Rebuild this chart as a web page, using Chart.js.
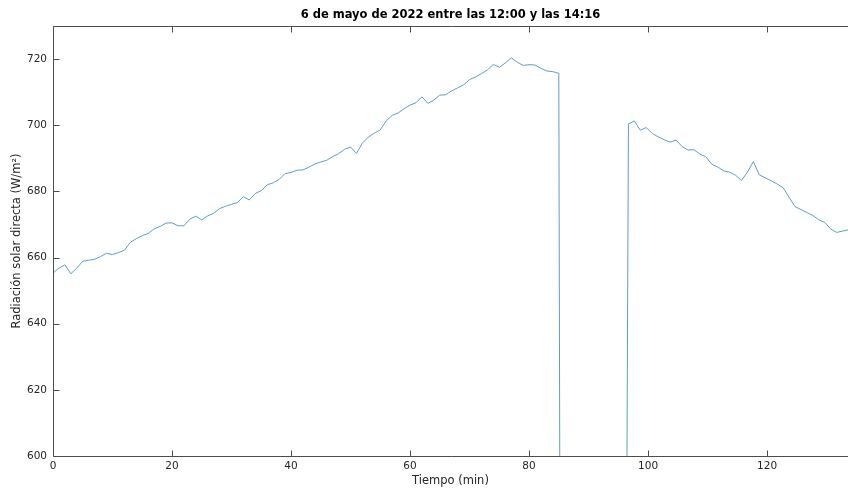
<!DOCTYPE html>
<html>
<head>
<meta charset="utf-8">
<script src="https://cdn.jsdelivr.net/npm/chart.js@4.4.0/dist/chart.umd.min.js"></script>
<style>
  html, body { margin: 0; padding: 0; background: #ffffff; }
  #wrap { width: 848px; height: 490px; }
</style>
</head>
<body>
<div id="wrap"><canvas id="grafico"></canvas></div>
<script>
// Minutos transcurridos desde las 12:00
const tiempo = [
  0, 1, 2, 3, 4, 5, 6, 7, 8, 9,
  10, 11, 12, 13, 14, 15, 16, 17, 18, 19,
  20, 21, 22, 23, 24, 25, 26, 27, 28, 29,
  30, 31, 32, 33, 34, 35, 36, 37, 38, 39,
  40, 41, 42, 43, 44, 45, 46, 47, 48, 49,
  50, 51, 52, 53, 54, 55, 56, 57, 58, 59,
  60, 61, 62, 63, 64, 65, 66, 67, 68, 69,
  70, 71, 72, 73, 74, 75, 76, 77, 78, 79,
  80, 81, 82, 83, 84, 85,
  86, 87, 88, 89, 90, 91, 92, 93, 94, 95,
  96.7, 97.7, 98.7, 99.7, 100.7, 101.7, 102.7, 103.7, 104.7, 105.7,
  106.7, 107.7, 108.7, 109.7, 110.7, 111.7, 112.7, 113.7, 114.7, 115.7,
  116.7, 117.7, 118.7, 119.7, 120.7, 121.7, 122.7, 123.7, 124.7, 125.7,
  126.7, 127.7, 128.7, 129.7, 130.7, 131.7, 132.7, 133.7
];

// Radiación solar directa medida (W/m²); sin lectura del sensor entre 86 y 95 min
const radiacion = [
  655.3, 656.8, 657.8, 655.1, 656.8, 658.9, 659.2, 659.5, 660.3, 661.3,
  660.9, 661.5, 662.2, 664.6, 665.7, 666.6, 667.3, 668.7, 669.4, 670.4,
  670.5, 669.6, 669.6, 671.6, 672.5, 671.4, 672.6, 673.4, 674.8, 675.5,
  676.1, 676.6, 678.4, 677.4, 679.4, 680.2, 682.0, 682.6, 683.6, 685.4,
  685.7, 686.4, 686.5, 687.3, 688.3, 688.9, 689.4, 690.5, 691.4, 692.7,
  693.4, 691.5, 694.6, 696.4, 697.6, 698.6, 701.3, 703.0, 703.7, 705.0,
  706.1, 706.8, 708.6, 706.6, 707.6, 709.1, 709.2, 710.4, 711.3, 712.2,
  713.8, 714.6, 715.6, 716.7, 718.4, 717.5, 718.8, 720.4, 719.1, 718.1,
  718.3, 718.2, 717.2, 716.4, 716.2, 715.7,
  0, 0, 0, 0, 0, 0, 0, 0, 0, 0,
  700.4, 701.3, 698.5, 699.3, 697.5, 696.5, 695.6, 694.9, 695.5, 693.6,
  692.5, 692.6, 691.3, 690.5, 688.2, 687.4, 686.2, 685.8, 684.9, 683.3,
  685.8, 689.0, 685.0, 684.1, 683.2, 682.2, 681.1, 678.2, 675.4, 674.5,
  673.6, 672.7, 671.4, 670.6, 668.6, 667.6, 668.0, 668.4
];

const marcasX = [0, 20, 40, 60, 80, 100, 120];
const marcasY = [600, 620, 640, 660, 680, 700, 720];

const limitesX = [0, 133.6];
const limitesY = [600, 730];

const puntos = tiempo.map((t, i) => ({ x: t, y: radiacion[i] }));

const colorEjes = '#4d4d4d';
const colorTexto = '#262626';
const fuente = 'DejaVu Sans';

// Caja de ejes (izquierda, arriba y abajo) con marcas hacia dentro
const cajaEjes = {
  id: 'cajaEjes',
  afterDatasetsDraw(chart) {
    const { ctx, chartArea: a, scales } = chart;
    const largo = 6;
    const izq = Math.round(a.left) + 0.5;
    const arr = Math.round(a.top) + 0.5;
    const abj = Math.round(a.bottom) + 0.5;
    ctx.save();
    ctx.strokeStyle = colorEjes;
    ctx.lineWidth = 1;
    ctx.beginPath();
    ctx.moveTo(a.right + 1, arr); ctx.lineTo(izq, arr); ctx.lineTo(izq, abj); ctx.lineTo(a.right + 1, abj);
    for (const v of marcasX) {
      const px = Math.round(scales.x.getPixelForValue(v)) + 0.5;
      ctx.moveTo(px, abj); ctx.lineTo(px, abj - largo);
      ctx.moveTo(px, arr); ctx.lineTo(px, arr + largo);
    }
    for (const v of marcasY) {
      const py = Math.round(scales.y.getPixelForValue(v)) + 0.5;
      ctx.moveTo(izq, py); ctx.lineTo(izq + largo, py);
    }
    ctx.stroke();
    ctx.restore();
  }
};

new Chart(document.getElementById('grafico'), {
  type: 'line',
  data: {
    datasets: [{
      data: puntos,
      borderColor: '#5c9fc3',
      borderWidth: 1,
      pointRadius: 0,
      tension: 0,
      fill: false
    }]
  },
  options: {
    responsive: true,
    maintainAspectRatio: false,
    animation: false,
    layout: { padding: { left: 0, right: 0, top: 0, bottom: 0 } },
    plugins: {
      legend: { display: false },
      tooltip: { enabled: false },
      title: {
        display: true,
        fullSize: false,
        text: '6 de mayo de 2022 entre las 12:00 y las 14:16',
        color: '#000000',
        font: { family: fuente, size: 11.5, weight: 'bold', lineHeight: 1.2 },
        padding: { top: 8.4, bottom: 3.8 }
      }
    },
    scales: {
      x: {
        type: 'linear',
        min: limitesX[0],
        max: limitesX[1],
        afterBuildTicks: (s) => { s.ticks = marcasX.map(v => ({ value: v })); },
        afterFit: (s) => { s.height = 34; },
        grid: { display: false, drawTicks: false },
        border: { display: false },
        ticks: {
          color: colorTexto,
          padding: 4,
          maxRotation: 0,
          font: { family: fuente, size: 10.5 }
        },
        title: {
          display: true,
          text: 'Tiempo (min)',
          color: colorTexto,
          font: { family: fuente, size: 11.5, lineHeight: 1.2 },
          padding: { top: 0, bottom: 2 }
        }
      },
      y: {
        type: 'linear',
        min: limitesY[0],
        max: limitesY[1],
        afterBuildTicks: (s) => { s.ticks = marcasY.map(v => ({ value: v })); },
        afterFit: (s) => { s.width = 53; },
        grid: { display: false, drawTicks: false },
        border: { display: false },
        ticks: {
          color: colorTexto,
          padding: 6,
          font: { family: fuente, size: 10.5 }
        },
        title: {
          display: true,
          text: 'Radiación solar directa (W/m²)',
          color: colorTexto,
          font: { family: fuente, size: 11.5, lineHeight: 1.2 },
          padding: { top: 10, bottom: 0 }
        }
      }
    }
  },
  plugins: [cajaEjes]
});
</script>
</body>
</html>
